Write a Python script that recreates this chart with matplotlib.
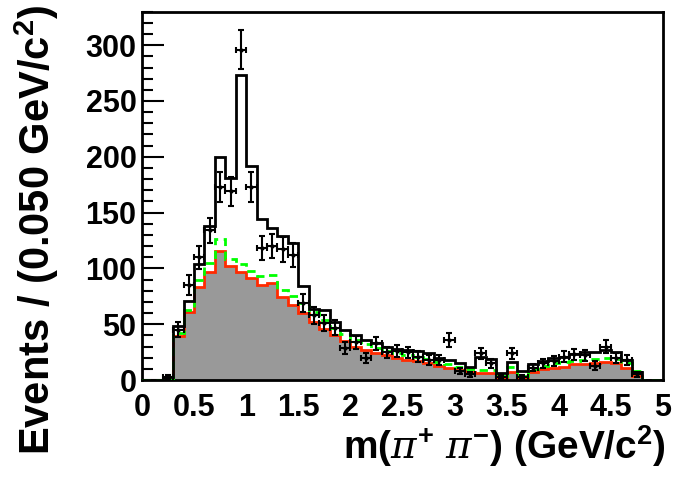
import numpy as np
import matplotlib.pyplot as plt

plt.rcParams['font.family'] = ['Liberation Sans', 'DejaVu Sans']
plt.rcParams['font.weight'] = 'bold'
plt.rcParams['axes.labelweight'] = 'bold'
plt.rcParams['mathtext.fontset'] = 'custom'
plt.rcParams['mathtext.rm'] = 'Liberation Sans:bold'
plt.rcParams['mathtext.it'] = 'DejaVu Serif:italic:regular'

# bin edges of the fit components (GeV/c^2)
edges = np.round(np.arange(0, 5.01, 0.1), 2)

# total fit
total = [0, 0, 3, 48, 71, 104, 138, 200, 181, 273,
         192, 144, 136, 129, 123, 84, 64, 63, 52, 45,
         40, 36, 33, 30, 28, 27, 26, 24, 20, 18,
         15, 12, 21, 19, 6, 16, 8, 14, 17, 20,
         21, 23, 25, 25, 27, 25, 18, 7, 0, 0]
# green dashed component
comp_green = [0, 0, 0, 42, 63, 90, 105, 126, 108, 104,
              98, 93, 94, 81, 75, 69, 61, 54, 47, 41,
              36, 32, 29, 26, 24, 22, 21, 19, 16, 14,
              12, 10, 9, 9, 4, 12, 4, 10, 13, 15,
              16, 17, 18, 19, 20, 19, 15, 8, 0, 0]
# red component (grey filled)
comp_red = [0, 0, 0, 39, 61, 83, 97, 116, 102, 97,
            91, 85, 87, 74, 67, 60, 52, 46, 40, 35,
            30, 27, 24, 22, 20, 18, 17, 15, 13, 11,
            9, 7, 6, 6, 2, 7, 2, 7, 10, 11,
            12, 14, 14, 15, 16, 15, 11, 4, 0, 0]

# data
data_x = [0.25, 0.35, 0.45, 0.55, 0.65, 0.75, 0.85, 0.95, 1.05, 1.15,
          1.25, 1.35, 1.45, 1.55, 1.65, 1.75, 1.85, 1.95, 2.05, 2.15,
          2.25, 2.35, 2.45, 2.55, 2.65, 2.75, 2.85, 2.95, 3.05, 3.15,
          3.25, 3.35, 3.45, 3.55, 3.65, 3.75, 3.85, 3.95, 4.05, 4.15,
          4.25, 4.35, 4.45, 4.55, 4.65, 4.75]
data_y = [3, 45, 85, 110, 134, 173, 169, 296, 173, 118,
          120, 117, 112, 69, 58, 51, 47, 29, 34, 20,
          33, 25, 26, 25, 21, 18, 18, 36, 8, 5,
          24, 15, 3, 24, 3, 11, 15, 17, 21, 23,
          22, 13, 30, 20, 18, 5]

fig = plt.figure(figsize=(6.77, 4.8), dpi=100)
ax = fig.add_axes([0.2097, 0.2083, 0.7696, 0.7673])

ax.stairs(comp_red, edges, fill=True, color='#999999', lw=0, zorder=1)
ax.stairs(comp_red, edges, color='#ff2a00', lw=2, zorder=2)
ax.stairs(comp_green, edges, color='#00ff00', lw=2, ls=(0, (3, 2)), zorder=3)
ax.stairs(total, edges, color='black', lw=2, zorder=4)

dy = np.sqrt(np.array(data_y, dtype=float))
ax.errorbar(data_x, data_y, xerr=0.05, yerr=dy, fmt='o', ms=2, color='black',
            ecolor='black', elinewidth=1.5, capsize=2, capthick=1.5, zorder=5)

ax.set_xlim(0, 5)
ax.set_ylim(0, 330)
ax.set_xticks(np.arange(0, 5.01, 0.5))
ax.set_xticklabels(['0', '0.5', '1', '1.5', '2', '2.5', '3', '3.5', '4', '4.5', '5'])
ax.set_yticks(np.arange(0, 301, 50))
ax.set_yticks(np.arange(0, 331, 10), minor=True)
ax.tick_params(axis='y', which='major', direction='in', length=16, width=1.5,
               labelsize=22, pad=4)
ax.tick_params(axis='y', which='minor', direction='in', length=8, width=1.5)
ax.tick_params(axis='x', which='both', length=0, labelsize=22, pad=9)
for s in ax.spines.values():
    s.set_linewidth(2)

ax.set_xlabel(r'm($\pi^{+}$ $\pi^{-}$) (GeV/c$^{2}$)', fontsize=28,
              fontweight='bold', ha='right')
ax.xaxis.set_label_coords(1.005, -0.12)
ax.set_ylabel('Events / (0.050 GeV/c$^{2}$)', fontsize=30,
              fontweight='bold', ha='right')
ax.yaxis.set_label_coords(-0.155, 1.02)

fig.savefig('out.png', dpi=100)
